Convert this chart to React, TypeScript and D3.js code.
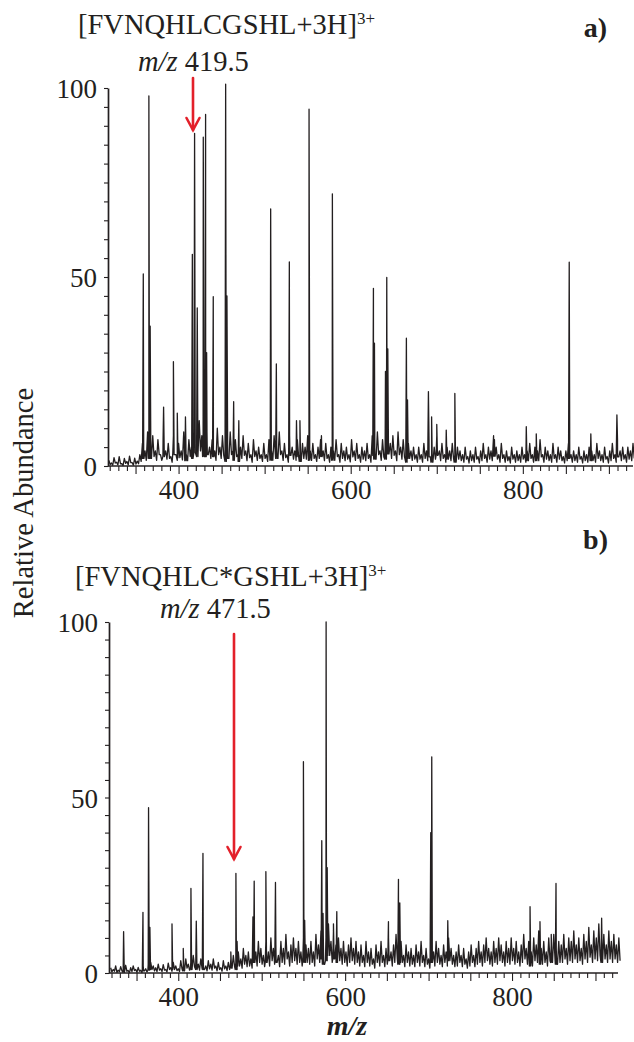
import React, { useRef, useEffect } from 'react';
import * as d3 from 'd3';

// m/z sampling grid for the noisy baseline: crests every 3 units from 319,
// troughs half a step later
const gridStart = 319;
const gridStep = 3;

// panel a) baseline noise crests (relative abundance %)
const crestA = [
  1.5, 0.8, 2.2, 1, 2.5, 0.6, 2, 1.2, 2.6, 0.9, 2.1, 1.3, 3, 6, 4, 9, 5, 8, 4, 7,
  3, 7, 4, 6, 2.5, 8, 3, 6, 4, 9, 3, 7, 5, 10, 6, 12, 8, 6, 9, 5,
  7, 4, 10, 5, 8, 3, 6, 9, 4, 7, 3, 5, 8, 4, 6, 3, 7, 4, 5, 3,
  6, 3, 7, 4, 8, 5, 9, 4, 6, 3, 8, 5, 4, 7, 3, 6, 5, 8, 4, 6,
  3, 5, 7, 4, 6, 3, 5, 4, 7, 3, 6, 4, 5, 3, 7, 4, 6, 3, 5, 4,
  6, 3, 8, 5, 9, 4, 7, 5, 10, 6, 8, 4, 9, 5, 7, 3, 6, 4, 5, 3,
  5, 3, 6, 4, 7, 3, 5, 8, 4, 6, 3, 5, 4, 6, 3, 5, 4, 3, 5, 2.5,
  4, 3, 5, 2.5, 4, 6, 3, 5, 4, 8, 5, 3, 6, 3, 4, 2.5, 5, 3, 4, 3,
  5, 3, 4, 6, 3, 5, 4, 7, 3, 5, 4, 3, 6, 3, 5, 4, 2.5, 4, 6, 3,
  4, 3, 5, 2.5, 4, 3, 5, 4, 3, 6, 4, 3, 5, 2.5, 4, 6, 3, 7, 4, 5,
  3, 5, 4, 6,
];

// panel a) baseline noise troughs
const troughA = [
  0.4, 0.2, 0.8, 0.3, 0.6, 0.1, 0.7, 0.3, 0.9, 0.2, 0.5, 0.6, 1.2, 2, 1.5, 3, 2, 2.5, 1.5, 3,
  1.5, 2.5, 1.8, 2, 1, 3, 1.5, 2.2, 1.6, 3, 1.4, 2.5, 2, 3.5, 2.5, 4, 3, 2.5, 3, 2,
  2.5, 1.5, 3, 2, 2.8, 1.2, 2, 3, 1.5, 2.5, 1.2, 2, 2.8, 1.4, 2.2, 1, 2.5, 1.5, 2, 1.2,
  2, 1.2, 2.5, 1.5, 3, 2, 3, 1.5, 2.2, 1, 2.8, 1.8, 1.5, 2.5, 1.2, 2, 1.8, 2.8, 1.5, 2,
  1.2, 2, 2.5, 1.4, 2, 1, 1.8, 1.5, 2.5, 1, 2, 1.4, 1.8, 1.1, 2.4, 1.5, 2, 1, 1.8, 1.4,
  2, 1, 2.8, 1.8, 3, 1.5, 2.4, 1.8, 3.2, 2, 2.8, 1.4, 3, 1.8, 2.4, 1, 2, 1.5, 1.8, 1,
  1.8, 1, 2, 1.4, 2.4, 1, 1.8, 2.8, 1.4, 2, 1, 1.8, 1.4, 2, 1, 1.8, 1.4, 1, 1.8, 0.8,
  1.4, 1, 1.8, 0.8, 1.4, 2, 1, 1.8, 1.4, 2.6, 1.8, 1, 2, 1, 1.4, 0.8, 1.8, 1, 1.4, 1,
  1.8, 1, 1.4, 2, 1, 1.8, 1.4, 2.4, 1, 1.8, 1.4, 1, 2, 1, 1.8, 1.4, 0.8, 1.4, 2, 1,
  1.4, 1, 1.8, 0.8, 1.4, 1, 1.8, 1.4, 1, 2, 1.4, 1, 1.8, 0.8, 1.4, 2, 1, 2.4, 1.4, 1.8,
  1, 1.8, 1.4, 2,
];

// panel a) peaks
const peakMzA = [359, 365.5, 367, 382.6, 394, 398.5, 408, 416, 418.6, 421.7, 428.7, 431.4, 432.6, 440.3, 454.7, 456.2, 464, 470, 507, 513.6, 528.7, 537, 541, 551.6, 566, 578.7, 626.4, 627.6, 640.4, 641.9, 643.1, 664.7, 666, 690.3, 694, 700, 711, 721, 767, 804, 815.6, 853.9, 879, 909.3];
const peakIntA = [50.8, 97.9, 37, 15.6, 27.6, 14, 13, 56, 88, 41.8, 87, 93, 30, 44.8, 101, 45, 17, 12, 68, 27, 54, 12, 12, 94.4, 8, 72, 47, 32.5, 25, 49.9, 31, 33.8, 17.5, 19.7, 13, 11, 9.5, 19.2, 7, 10.4, 8.5, 53.9, 8.5, 13.5];

// panel b) baseline noise crests
const crestB = [
  1.5, 1, 2, 0.8, 1.8, 1, 2.2, 0.7, 1.5, 2, 1, 1.6, 0.8, 2, 1.2, 2.5, 3, 2, 1.5, 2.5,
  1.2, 2.4, 1, 2.8, 1.5, 3, 2, 1.2, 3.5, 2, 4, 2.5, 3, 5, 3, 2.5, 4, 3, 2, 3.5,
  2.5, 4, 2, 3, 1.5, 3.5, 2, 3, 4, 5, 3, 6, 4, 7, 5, 6, 4, 8, 6, 9,
  7, 5, 9, 6, 10, 7, 8, 5, 9, 7, 11, 6, 8, 10, 7, 9, 6, 10, 8, 7,
  9, 6, 11, 8, 12, 7, 10, 14, 9, 12, 8, 10, 7, 9, 6, 8, 10, 7, 9, 6,
  8, 5, 9, 6, 7, 4, 8, 6, 9, 5, 7, 10, 6, 8, 11, 7, 9, 5, 8, 6,
  7, 5, 8, 6, 9, 5, 7, 4, 8, 6, 9, 7, 5, 8, 6, 10, 7, 5, 6, 8,
  5, 7, 4, 6, 8, 5, 7, 9, 6, 8, 10, 7, 6, 9, 7, 10, 8, 6, 9, 7,
  10, 7, 9, 6, 8, 11, 7, 9, 6, 10, 8, 12, 7, 9, 6, 10, 8, 11, 7, 9,
  8, 11, 7, 10, 9, 12, 8, 10, 7, 11, 9, 13, 8, 12, 10, 14, 9, 11, 8, 12,
  9, 11, 8, 10,
];

// panel b) baseline noise troughs
const troughB = [
  0.3, 0.5, 0.2, 0.4, 0.6, 0.2, 0.5, 0.1, 0.4, 0.7, 0.2, 0.5, 0.1, 0.6, 0.3, 0.8, 1, 0.6, 0.4, 0.8,
  0.4, 0.8, 0.3, 1, 0.5, 1, 0.7, 0.4, 1.2, 0.6, 1.4, 0.8, 1, 1.8, 1, 0.8, 1.4, 1, 0.6, 1.2,
  0.8, 1.4, 0.6, 1, 0.5, 1.2, 0.7, 1, 1.4, 1.8, 1, 2, 1.4, 2.5, 1.8, 2, 1.4, 3, 2, 3,
  2.5, 1.8, 3, 2, 3.5, 2.5, 3, 1.8, 3, 2.5, 4, 2, 3, 3.5, 2.5, 3, 2, 3.5, 3, 2.5,
  3, 2, 4, 3, 4, 2.5, 3.5, 5, 3, 4, 3, 3.5, 2.5, 3, 2, 3, 3.5, 2.5, 3, 2,
  3, 1.8, 3, 2, 2.5, 1.4, 3, 2, 3, 1.8, 2.5, 3.5, 2, 3, 4, 2.5, 3, 1.8, 3, 2,
  2.5, 1.8, 3, 2, 3, 1.8, 2.5, 1.4, 3, 2, 3, 2.5, 1.8, 3, 2, 3.5, 2.5, 1.8, 2, 3,
  1.8, 2.5, 1.4, 2, 3, 1.8, 2.5, 3, 2, 3, 3.5, 2.5, 2, 3, 2.5, 3.5, 3, 2, 3, 2.5,
  3.5, 2.5, 3, 2, 3, 4, 2.5, 3, 2, 3.5, 3, 4, 2.5, 3, 2, 3.5, 3, 4, 2.5, 3,
  3, 4, 2.5, 3.5, 3, 4, 3, 3.5, 2.5, 4, 3, 4.5, 3, 4, 3.5, 5, 3, 4, 3, 4,
  3, 4, 3, 3.5,
];

// panel b) peaks
const peakMzB = [334.5, 357.7, 364.4, 366, 392.5, 406, 415.2, 421.6, 429.6, 463, 469.1, 470.5, 489.5, 491, 505, 516.5, 550, 551.5, 572, 573.5, 577.2, 578.5, 586, 590, 651.9, 663.9, 665.5, 702.6, 703.8, 723, 821.6, 833.5, 847, 852.7, 907.4];
const peakIntB = [11.8, 17.3, 47.1, 13, 14, 7, 24.1, 14.8, 34.1, 6, 28.4, 9, 16, 26.2, 28.9, 25.8, 60.2, 15, 37.7, 17, 100, 30, 14, 17.5, 14.6, 26.7, 20, 40, 61.6, 14.9, 18.9, 14.6, 11, 25.5, 15.6];

const xTicks = d3.range(320, 921, 10);
const xLabels = [400, 600, 800];
const yTicks = d3.range(0, 101, 5);
const yLabels = [0, 50, 100];

const FONT = '"Liberation Serif", "Times New Roman", serif';
const INK = '#231f20';
const RED = '#e3202a';

function buildSpectrum(crest: number[], trough: number[], mz: number[], inten: number[]) {
  const pts: [number, number][] = [];
  crest.forEach((v, i) => {
    pts.push([gridStart + i * gridStep, v]);
    pts.push([gridStart + i * gridStep + gridStep / 2, trough[i]]);
  });
  mz.forEach((m, i) => {
    const k = Math.max(0, Math.min(trough.length - 1, Math.round((m - gridStart) / gridStep)));
    const b = trough[k];
    pts.push([m - 0.8, b], [m, inten[i]], [m + 0.8, b]);
  });
  pts.sort((a, b) => a[0] - b[0]);
  return pts;
}

type PanelProps = {
  domain: [number, number];
  left: number;
  right: number;
  y0: number;
  y100: number;
  crest: number[];
  trough: number[];
  mz: number[];
  inten: number[];
};

function Panel({ domain, left, right, y0, y100, crest, trough, mz, inten }: PanelProps) {
  const xRef = useRef<SVGGElement>(null);
  const yRef = useRef<SVGGElement>(null);
  const x = d3.scaleLinear().domain(domain).range([left, right]);
  const y = d3.scaleLinear().domain([0, 100]).range([y0, y100]);

  useEffect(() => {
    const xAxis = d3.axisBottom(x)
      .tickValues(xTicks)
      .tickSize(4)
      .tickSizeOuter(0)
      .tickFormat((d) => (xLabels.includes(+d) ? String(d) : ''));
    const gx = d3.select(xRef.current!);
    gx.call(xAxis as any);
    gx.select('.domain').attr('stroke', INK).attr('stroke-width', 1.7)
      .attr('d', `M${left},0H${right}`);
    gx.selectAll('.tick line').attr('stroke', INK).attr('stroke-width', 1.1)
      .attr('y2', (d: any) => (d % 50 === 0 ? 8 : 5));
    gx.selectAll('.tick text').attr('fill', INK).attr('y', 33).attr('dy', null)
      .style('font-family', FONT).style('font-size', '27px');

    const yAxis = d3.axisLeft(y)
      .tickValues(yTicks)
      .tickSize(4)
      .tickSizeOuter(0)
      .tickPadding(7)
      .tickFormat((d) => (yLabels.includes(+d) ? String(d) : ''));
    const gy = d3.select(yRef.current!);
    gy.call(yAxis as any);
    gy.select('.domain').attr('stroke', INK).attr('stroke-width', 1.7);
    gy.selectAll('.tick line').attr('stroke', INK).attr('stroke-width', 1.1);
    gy.selectAll('.tick text').attr('fill', INK).attr('dy', '0.36em')
      .style('font-family', FONT).style('font-size', '27px');
  });

  const pts = buildSpectrum(crest, trough, mz, inten);
  const line = d3.line<[number, number]>().x((d) => x(d[0])).y((d) => y(d[1]));

  return (
    <g>
      <path d={line(pts) || ''} fill="none" stroke={INK} strokeWidth={1.3} strokeLinejoin="round" />
      <g ref={xRef} transform={`translate(0,${y0})`} />
      <g ref={yRef} transform={`translate(${left},0)`} />
    </g>
  );
}

function Arrow({ x, y1, y2 }: { x: number; y1: number; y2: number }) {
  return (
    <g stroke={RED} strokeWidth={2.6} fill="none" strokeLinecap="round">
      <line x1={x} y1={y1} x2={x} y2={y2} />
      <path d={`M${x - 6.5},${y2 - 12}L${x},${y2}L${x + 6.5},${y2 - 12}`} strokeLinejoin="miter" />
    </g>
  );
}

export default function App() {
  return (
    <svg width={634} height={1042} style={{ position: 'absolute', left: 0, top: 0, background: '#fff' }}
      fontFamily={FONT} fill={INK}>
      <rect width={634} height={1042} fill="#fff" />

      {/* panel a */}
      <text x={78} y={34} fontSize={28.5}>
        [FVNQHLCGSHL+3H]<tspan fontSize={17} dy={-10}>3+</tspan>
      </text>
      <text x={607} y={37} fontSize={28} fontWeight="bold" textAnchor="end">a)</text>
      <text x={138} y={71} fontSize={28.5}>
        <tspan fontStyle="italic">m/z</tspan> 419.5
      </text>
      <Panel domain={[318, 928]} left={108} right={633} y0={466} y100={88}
        crest={crestA} trough={troughA} mz={peakMzA} inten={peakIntA} />
      <Arrow x={193} y1={78} y2={130} />

      {/* panel b */}
      <text x={608} y={549} fontSize={28} fontWeight="bold" textAnchor="end">b)</text>
      <text x={75} y={586} fontSize={28.5}>
        [FVNQHLC*GSHL+3H]<tspan fontSize={17} dy={-10}>3+</tspan>
      </text>
      <text x={160} y={618} fontSize={28.5}>
        <tspan fontStyle="italic">m/z</tspan> 471.5
      </text>
      <Panel domain={[317, 927]} left={109} right={618} y0={973} y100={622}
        crest={crestB} trough={troughB} mz={peakMzB} inten={peakIntB} />
      <Arrow x={234} y1={634} y2={859} />

      <text transform="translate(33,503) rotate(-90)" textAnchor="middle" fontSize={28.5}>
        Relative Abundance
      </text>
      <text x={347} y={1035} textAnchor="middle" fontSize={28} fontWeight="bold" fontStyle="italic">m/z</text>
    </svg>
  );
}
